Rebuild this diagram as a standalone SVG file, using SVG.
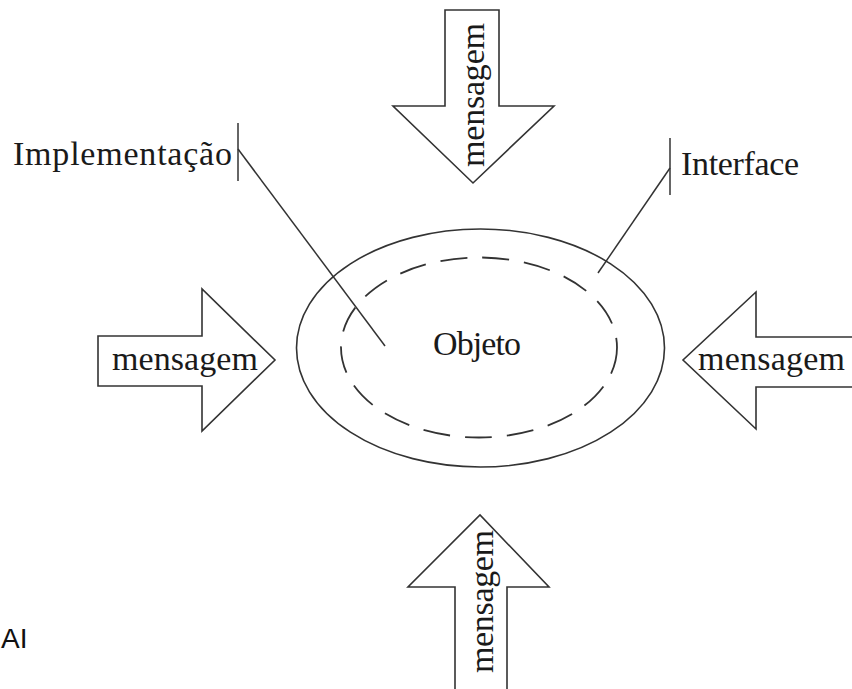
<svg xmlns="http://www.w3.org/2000/svg" width="852" height="689" viewBox="0 0 852 689">
<style>
.arrow{fill:#ffffff;stroke:#333333;stroke-width:1.6;stroke-linejoin:miter}
.lbl{font-family:"Liberation Serif","Times New Roman",serif;font-size:34px;fill:#1a1a1a}
.lead{stroke:#333333;stroke-width:1.5;fill:none}
.ell{fill:none;stroke:#333333;stroke-width:1.6}
.dash{fill:none;stroke:#333333;stroke-width:1.8;stroke-dasharray:27 15}
.sans{font-family:"Liberation Sans",Arial,sans-serif;font-size:28px;fill:#111111}
</style>
<rect x="0" y="0" width="852" height="689" fill="#ffffff"/>
<g id="objeto">
<ellipse class="ell" cx="480.5" cy="348" rx="184" ry="119"/>
<ellipse class="dash" cx="479" cy="347.5" rx="138" ry="90"/>
<text class="lbl" x="477" y="355" text-anchor="middle" textLength="88">Objeto</text>
</g>
<g id="connectors">
<line class="lead" x1="238" y1="123" x2="238" y2="181"/>
<line class="lead" x1="238" y1="149" x2="385" y2="346"/>
<line class="lead" x1="670" y1="138" x2="670" y2="195"/>
<line class="lead" x1="670" y1="168" x2="598" y2="273"/>
</g>
<g id="implementacao">
<text class="lbl" x="13" y="165" textLength="219">Implementação</text>
</g>
<g id="interface">
<text class="lbl" x="681" y="175" textLength="118">Interface</text>
</g>
<g id="msg-top">
<polygon class="arrow" points="445,10 499,10 499,106 554,106 473,183 393,106 445,106"/>
<text class="lbl" transform="translate(484,95) rotate(-90)" x="0" y="0" text-anchor="middle" textLength="144">mensagem</text>
</g>
<g id="msg-left">
<polygon class="arrow" points="98,336 202,336 202,289 275,360 202,431 202,386 98,386"/>
<text class="lbl" x="185" y="370" text-anchor="middle" textLength="146">mensagem</text>
</g>
<g id="msg-right">
<polygon class="arrow" points="862,337 756,337 756,292 683,360 756,429 756,387 862,387"/>
<text class="lbl" x="771.5" y="370" text-anchor="middle" textLength="147">mensagem</text>
</g>
<g id="msg-bottom">
<polygon class="arrow" points="455,700 455,587 408,587 480,515 549,587 507,587 507,700"/>
<text class="lbl" transform="translate(493,601.5) rotate(-90)" x="0" y="0" text-anchor="middle" textLength="143">mensagem</text>
</g>
<g id="ai">
<text class="sans" x="1" y="648">AI</text>
</g>
</svg>
